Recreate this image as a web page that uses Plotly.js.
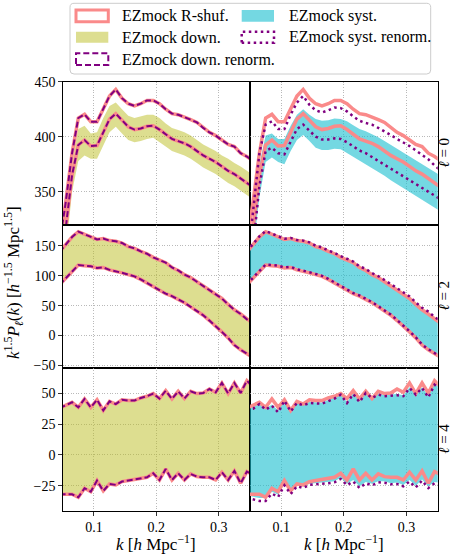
<!DOCTYPE html>
<html>
<head>
<meta charset="utf-8">
<script src="https://cdn.plot.ly/plotly-3.0.1.min.js"></script>
<style>html,body{margin:0;padding:0;background:#fff}#plot{width:452px;height:560px}</style>
</head>
<body>
<div id="plot"></div>
<script>
// ---- data ----
const k = [0.045,0.055,0.065,0.075,0.085,0.095,0.105,0.115,0.125,0.135,0.145,0.155,0.165,0.175,0.185,0.195,0.205,0.215,0.225,0.235,0.245,0.255,0.265,0.275,0.285,0.295,0.305,0.315,0.325,0.335,0.345,0.355];

// ell = 0
const rshufUp0 = [303,341,385,417,420.3,413.6,413.6,425,437,443,435,430,428,430,433,433,430,425,421,420,418,415.5,413,408,404,401,397,393,391,385,382,378];
const rshufLo0 = [270,316,365,392.5,397,391.5,392,404,416,421,415,409,406.5,407.5,409.5,410,406.5,402,398,396,394,391,387,383,380,377,373,369,366,362,358,354];
const downUp0 = [300,335,380,407,410,403,404,417,428,431,425,419,417,418.5,420,420,417,412,408,406,404,401,397,393,390,387,383,380,376,373,369,365];
const downLo0 = [255,295,350,378,383,380,380,392,404,409,403,397,395,396,398,399,395,391,387,385,383,380,376,372,369,366,362,358,355,351,347,343];
const systUp0 = [270,320,375,401,403,398,398,410,420,425,420,416,414.5,415,416.5,416,414,410.5,407,405,402.5,399.5,396,392.5,389,385.5,382,378.5,375,371.5,368,364.5];
const systLo0 = [245,285,345,377,381,377,375,387,397,401.5,396,390,388,388,389,388.5,385.5,381.5,378,375,371.5,368,364.5,360.5,357,353.5,350,346,342.5,339,335.5,332];
const systRenUp0 = [280,330,385,411,414,407,407,420,431,437,429,424,422,424,426.5,426,423,418.5,414.5,412.5,411,408,405,401.5,398,395,391.5,387.5,383.5,379.5,374,369];
const systRenLo0 = [260,300,355,387,390,385,384,396,407,411,405,400,397.5,397.5,398.5,398,395,391,387.5,385,381.5,378,374.5,371,367.5,364,360.5,357,353.5,350,346.5,343];
const downRenUp0 = rshufUp0;
const downRenLo0 = rshufLo0;

// ell = 2
const rshufUp2 = [140,152,165,174,170,165,161,162.5,159,158,155,149,146,141,137,131,126,122,114,109,102,97,90,83,75,69,62,52,43,36,27,20];
const rshufLo2 = [85,96,108,118,117,116,113,114,110,108,105,102,99,94,88,81,76,70,66,61,55,48,41,34,25,16,6,-4,-16,-24,-31,-37];
const downUp2 = rshufUp2;
const downLo2 = rshufLo2;
const downRenUp2 = rshufUp2;
const downRenLo2 = rshufLo2;
const systUp2 = [138,150,163,172,168,163,159,160.5,157,156,153,147,144,139,135,129,124,120,112,107,100,95,88,81,73,67,60,50,41,34,25,18];
const systLo2 = [87,98,110,120,119,118,115,116,112,110,107,104,101,96,90,83,78,72,68,63,57,50,43,36,27,18,8,-2,-14,-22,-29,-35];
const systRenUp2 = [141,153,166,175,171,166,162,163.5,160,159,156,150.5,147.5,142.5,138.5,133,128,124,116,111.5,104.5,99.5,93,86,78,72.5,65.5,55.5,46.5,40,31,24];
const systRenLo2 = [86,97,109,119,118,117,114,115,111,109,106,103,100,95,89,82,77,71,67,62,56,49,42,35,26,17,7,-3,-15,-23,-30,-36];

// ell = 4
const rshufUp4 = [38,40.5,42.7,38.6,45.4,38.6,44.8,36.1,43.5,41.3,44.8,44.1,44.1,46.2,47.6,49.8,45.7,52.1,45.4,51.6,45.7,51.6,49.8,50.2,53.5,50.8,58.4,49.8,58.4,50.2,60.3,55];
const rshufLo4 = [-32,-31.8,-32,-34.5,-27.1,-29.9,-20.9,-29.3,-23.6,-24.4,-21.7,-20.9,-19.8,-19.0,-18.2,-14.9,-20.4,-11.4,-20.4,-14.9,-20.4,-15.5,-17.7,-18.2,-18.2,-20.4,-14.1,-20.4,-13.0,-23.1,-13.6,-16];
const downUp4 = rshufUp4;
const downLo4 = rshufLo4;
const downRenUp4 = rshufUp4;
const downRenLo4 = rshufLo4;
const systUp4 = [38,38.5,42,37.5,41,36,45,36.5,43,41,43,43,42.5,44.5,46.5,49.5,43,50.5,44,51,47,50,48.5,49,49.5,48.5,55,50,55,48,58,54];
const systLo4 = [-33,-34,-35,-35,-30,-32.5,-23.5,-30.5,-24.5,-25.5,-23.5,-23,-22.5,-22,-21.5,-18.5,-23.5,-20.5,-25.5,-22,-23.5,-21.5,-21.5,-23,-22.5,-24.5,-20.5,-25,-20,-25.5,-22,-23];
const systRenUp4 = [37,37.5,41.3,36.7,39.9,34.5,44.0,35.3,42.1,40.2,42.1,42.1,41.6,43.5,45.7,48.9,42.1,49.4,42.9,50.2,46.2,48.9,47.6,48.1,48.4,47.6,54.3,48.9,54.3,46.7,57.0,53];
const systRenLo4 = [-35,-36.5,-37.4,-37.4,-31.5,-34.2,-24.7,-31.8,-25.5,-26.9,-24.4,-23.9,-23.6,-23.1,-22.3,-19.6,-24.7,-21.7,-26.9,-23.1,-24.7,-22.3,-22.6,-23.9,-23.6,-25.5,-21.7,-26.4,-20.9,-26.9,-23.1,-24];

const legendLabels = ['EZmock R-shuf.','EZmock syst.','EZmock down.','EZmock syst. renorm.','EZmock down. renorm.'];
const ellLabels = ['0','2','4'];
const xTicks = [0.1,0.2,0.3];
const yTicks = [[350,400,450],[-50,0,50,100,150],[-25,0,25,50]];

// ---- styles ----
const PINK = '#fa8a8a';
const PURPLE = '#800080';
const OLIVE = 'rgba(188,189,34,0.5)';
const CYAN = 'rgba(23,190,207,0.6)';
const FONT = '"Liberation Serif", "Times New Roman", Times, serif';
const DASH = '6px,3px';
const DOT = '2.5px,3.5px';

const W = 452, H = 560;
const px = x => x / W, py = y => 1 - y / H;

function band(n, up, lo, color) {
  return {x: k.concat(k.slice().reverse()), y: up.concat(lo.slice().reverse()),
    xaxis: 'x' + n, yaxis: 'y' + n, mode: 'lines', fill: 'toself', fillcolor: color,
    line: {width: 0}, hoverinfo: 'skip', showlegend: false};
}
function line(n, y, color, width, dash) {
  return {x: k, y: y, xaxis: 'x' + n, yaxis: 'y' + n, mode: 'lines',
    line: {color: color, width: width, dash: dash || 'solid'}, hoverinfo: 'skip', showlegend: false};
}

const data = [];
const rows = [
  {rsU: rshufUp0, rsL: rshufLo0, dU: downUp0, dL: downLo0, drU: downRenUp0, drL: downRenLo0, sU: systUp0, sL: systLo0, srU: systRenUp0, srL: systRenLo0},
  {rsU: rshufUp2, rsL: rshufLo2, dU: downUp2, dL: downLo2, drU: downRenUp2, drL: downRenLo2, sU: systUp2, sL: systLo2, srU: systRenUp2, srL: systRenLo2},
  {rsU: rshufUp4, rsL: rshufLo4, dU: downUp4, dL: downLo4, drU: downRenUp4, drL: downRenLo4, sU: systUp4, sL: systLo4, srU: systRenUp4, srL: systRenLo4}
];
rows.forEach((r, i) => {
  const nl = 2 * i + 1, nr = 2 * i + 2;
  data.push(band(nl, r.dU, r.dL, OLIVE));
  data.push(line(nl, r.rsU, PINK, 3.5));
  data.push(line(nl, r.rsL, PINK, 3.5));
  data.push(line(nl, r.drU, PURPLE, 2, DASH));
  data.push(line(nl, r.drL, PURPLE, 2, DASH));
  data.push(band(nr, r.sU, r.sL, CYAN));
  data.push(line(nr, r.rsU, PINK, 3.5));
  data.push(line(nr, r.rsL, PINK, 3.5));
  data.push(line(nr, r.srU, PURPLE, 2.5, DOT));
  data.push(line(nr, r.srL, PURPLE, 2.5, DOT));
});

const xDom = [[px(62.7), px(250)], [px(250), px(437.7)]];
const yDom = [[py(224.5), py(81.7)], [py(367.7), py(224.5)], [py(511), py(367.7)]];
const yRng = [[320.2, 450], [-54, 186], [-45.6, 70.8]];

const layout = {
  width: W, height: H, margin: {l: 0, r: 0, t: 0, b: 0},
  paper_bgcolor: '#fff', plot_bgcolor: '#fff', showlegend: false,
  font: {family: FONT, size: 13, color: '#000'},
  annotations: [], shapes: []
};
const gridBase = {showgrid: true, gridcolor: '#a8a8a8', gridwidth: 0.8, griddash: '1px,1.6px',
  showline: true, linecolor: '#000', linewidth: 1, mirror: true, zeroline: false,
  tickfont: {family: FONT, size: 14, color: '#000'}, ticklen: 3.5, tickwidth: 0.8, tickcolor: '#000'};
for (let i = 0; i < 3; i++) {
  for (let j = 0; j < 2; j++) {
    const n = 2 * i + j + 1;
    const sfx = n === 1 ? '' : String(n);
    layout['xaxis' + sfx] = Object.assign({}, gridBase, {
      domain: xDom[j], range: [0.05, 0.35], anchor: 'y' + sfx,
      tickmode: 'array', tickvals: xTicks, ticktext: xTicks.map(String),
      showticklabels: i === 2, ticks: i === 2 ? 'outside' : ''
    });
    layout['yaxis' + sfx] = Object.assign({}, gridBase, {
      domain: yDom[i], range: yRng[i], anchor: 'x' + sfx,
      tickmode: 'array', tickvals: yTicks[i],
      showticklabels: j === 0, ticks: j === 0 ? 'outside' : ''
    });
  }
  layout.annotations.push({xref: 'paper', yref: 'paper', x: px(444.5), y: (yDom[i][0] + yDom[i][1]) / 2,
    text: '<i>ℓ</i> = ' + ellLabels[i], textangle: -90, showarrow: false,
    font: {family: FONT, size: 15, color: '#000'}, xanchor: 'center', yanchor: 'middle', borderpad: 0});
}
// axis titles
[156.4, 343.9].forEach(cx => layout.annotations.push({xref: 'paper', yref: 'paper', x: px(cx), y: py(543),
  text: '<i>k</i> [<i>h</i> Mpc<sup>−1</sup>]', showarrow: false,
  font: {family: FONT, size: 17, color: '#000'}, xanchor: 'center', yanchor: 'middle'}));
layout.annotations.push({xref: 'paper', yref: 'paper', x: px(13), y: py(283),
  text: '<i>k</i><sup>1.5</sup><i>P</i><sub><i>ℓ</i></sub>(<i>k</i>) [<i>h</i><sup>−1.5</sup> Mpc<sup>1.5</sup>]',
  textangle: -90, showarrow: false, font: {family: FONT, size: 17, color: '#000'},
  xanchor: 'center', yanchor: 'middle'});

// legend box (rounded)
(function () {
  const x0 = 70, x1 = 430.7, y0 = 3.3, y1 = 74, r = 4;
  const P = (x, y) => px(x) + ',' + py(y);
  const path = 'M' + P(x0 + r, y0) + ' L' + P(x1 - r, y0) + ' Q' + P(x1, y0) + ' ' + P(x1, y0 + r) +
    ' L' + P(x1, y1 - r) + ' Q' + P(x1, y1) + ' ' + P(x1 - r, y1) +
    ' L' + P(x0 + r, y1) + ' Q' + P(x0, y1) + ' ' + P(x0, y1 - r) +
    ' L' + P(x0, y0 + r) + ' Q' + P(x0, y0) + ' ' + P(x0 + r, y0) + ' Z';
  layout.shapes.push({type: 'path', xref: 'paper', yref: 'paper', path: path,
    line: {color: '#cccccc', width: 1}, fillcolor: 'rgba(255,255,255,0.8)', layer: 'above'});
})();
const sw = [
  {x0: 76, x1: 108.3, y0: 10, y1: 21.7, line: {color: PINK, width: 3}, fill: 'rgba(0,0,0,0)'},
  {x0: 241.7, x1: 274, y0: 10, y1: 21.7, line: {width: 0}, fill: CYAN},
  {x0: 76, x1: 108.3, y0: 31.7, y1: 42.7, line: {width: 0}, fill: OLIVE},
  {x0: 241.7, x1: 274, y0: 31.7, y1: 42.7, line: {color: PURPLE, width: 2.5, dash: DOT}, fill: 'rgba(0,0,0,0)'},
  {x0: 76, x1: 108.3, y0: 53.3, y1: 65, line: {color: PURPLE, width: 2, dash: DASH}, fill: 'rgba(0,0,0,0)'}
];
const textX = [120, 286.7, 120, 286.7, 120];
const textY = [15.8, 15.8, 37.2, 37.2, 59.2];
sw.forEach((s, i) => {
  layout.shapes.push({type: 'rect', xref: 'paper', yref: 'paper', x0: px(s.x0), x1: px(s.x1),
    y0: py(s.y1), y1: py(s.y0), line: s.line, fillcolor: s.fill, layer: 'above'});
  layout.annotations.push({xref: 'paper', yref: 'paper', x: px(textX[i]), y: py(textY[i]),
    text: legendLabels[i], showarrow: false, xanchor: 'left', yanchor: 'middle',
    font: {family: FONT, size: 16, color: '#000'}});
});

Plotly.newPlot('plot', data, layout, {staticPlot: true, displayModeBar: false});
</script>
</body>
</html>
